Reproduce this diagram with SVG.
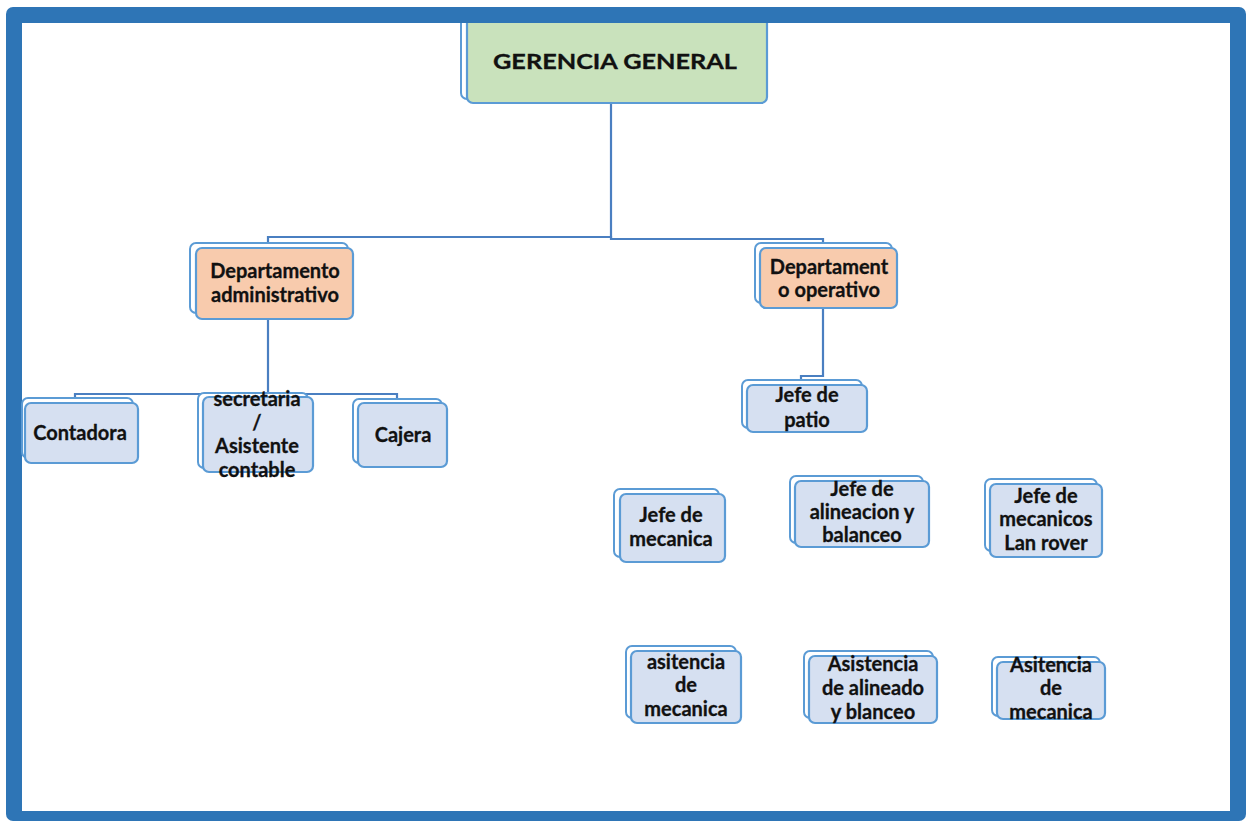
<svg xmlns="http://www.w3.org/2000/svg" width="1253" height="823" viewBox="0 0 1253 823">
  <style>
    .back { fill: #ffffff; stroke: #5B9BD5; stroke-width: 2; }
    .box { stroke: #5B9BD5; stroke-width: 2.2; }
    .blue { fill: #D6E0F1; }
    .peach { fill: #F8CBAD; }
    .green { fill: #C9E2BC; }
    .lbl { font-family: Lato, "Liberation Sans", sans-serif; font-weight: bold; font-size: 20px; fill: #111111; text-anchor: middle; stroke: #111111; stroke-width: 0.3; }
    .conn { fill: none; stroke: #4A7FC1; stroke-width: 2.2; }
  </style>

  <!-- frame -->
  <rect x="6" y="7" width="1240" height="814" rx="7" fill="#2E75B6"/>
  <rect x="22" y="23" width="1208" height="788" fill="#ffffff"/>

  <!-- connectors -->
  <g id="connectors">
    <polyline class="conn" points="611,103 611,238"/>
    <polyline class="conn" points="268,244 268,237 611,237 611,239 823,239 823,245"/>
    <polyline class="conn" points="268,319 268,394"/>
    <polyline class="conn" points="75,398 75,394 397,394 397,399"/>
    <polyline class="conn" points="823,308 823,376 801,376 801,381"/>
  </g>

  <!-- keeps the top node inside the frame -->
  <clipPath id="inner"><rect x="22" y="23" width="1208" height="788"/></clipPath>

  <g id="gerencia" clip-path="url(#inner)">
    <rect class="back" x="461" y="0" width="300" height="99" rx="6"/>
    <rect class="box green" x="467" y="4" width="300" height="99" rx="6"/>
    <text class="lbl" x="615" y="69" font-size="28" textLength="244" lengthAdjust="spacingAndGlyphs">GERENCIA GENERAL</text>
  </g>

  <g id="dep-admin">
    <rect class="back" x="190" y="243" width="158" height="70" rx="6"/>
    <rect class="box peach" x="196" y="248" width="157" height="71" rx="6"/>
    <text class="lbl" x="275" y="278">Departamento</text>
    <text class="lbl" x="275" y="302">administrativo</text>
  </g>

  <g id="dep-oper">
    <rect class="back" x="755" y="243" width="137" height="60" rx="6"/>
    <rect class="box peach" x="760" y="248" width="137" height="60" rx="6"/>
    <text class="lbl" x="829" y="274">Departament</text>
    <text class="lbl" x="829" y="297">o operativo</text>
  </g>

  <g id="contadora">
    <rect class="back" x="22" y="398" width="111" height="60" rx="6"/>
    <rect class="box blue" x="25" y="403" width="113" height="60" rx="6"/>
    <text class="lbl" x="80" y="440">Contadora</text>
  </g>

  <g id="secretaria">
    <rect class="back" x="198" y="393" width="110" height="75" rx="6"/>
    <rect class="box blue" x="203" y="397" width="110" height="75" rx="6"/>
    <text class="lbl" x="257" y="406">secretaria</text>
    <text class="lbl" x="257" y="430">/</text>
    <text class="lbl" x="257" y="453">Asistente</text>
    <text class="lbl" x="257" y="477">contable</text>
  </g>

  <g id="cajera">
    <rect class="back" x="353" y="399" width="89" height="64" rx="6"/>
    <rect class="box blue" x="358" y="403" width="89" height="64" rx="6"/>
    <text class="lbl" x="403" y="442">Cajera</text>
  </g>

  <g id="jefe-patio">
    <rect class="back" x="742" y="380" width="120" height="48" rx="6"/>
    <rect class="box blue" x="747" y="385" width="120" height="47" rx="6"/>
    <text class="lbl" x="807" y="402">Jefe de</text>
    <text class="lbl" x="807" y="427">patio</text>
  </g>

  <g id="jefe-mecanica">
    <rect class="back" x="614" y="489" width="105" height="68" rx="6"/>
    <rect class="box blue" x="620" y="494" width="105" height="68" rx="6"/>
    <text class="lbl" x="671" y="522">Jefe de</text>
    <text class="lbl" x="671" y="546">mecanica</text>
  </g>

  <g id="jefe-alineacion">
    <rect class="back" x="790" y="476" width="133" height="67" rx="6"/>
    <rect class="box blue" x="795" y="481" width="134" height="66" rx="6"/>
    <text class="lbl" x="862" y="496">Jefe de</text>
    <text class="lbl" x="862" y="519">alineacion y</text>
    <text class="lbl" x="862" y="542">balanceo</text>
  </g>

  <g id="jefe-lanrover">
    <rect class="back" x="985" y="479" width="112" height="72" rx="6"/>
    <rect class="box blue" x="990" y="484" width="112" height="73" rx="6"/>
    <text class="lbl" x="1046" y="503">Jefe de</text>
    <text class="lbl" x="1046" y="526">mecanicos</text>
    <text class="lbl" x="1046" y="550">Lan rover</text>
  </g>

  <g id="asist-mecanica-1">
    <rect class="back" x="626" y="646" width="110" height="72" rx="6"/>
    <rect class="box blue" x="631" y="651" width="110" height="72" rx="6"/>
    <text class="lbl" x="686" y="669">asitencia</text>
    <text class="lbl" x="686" y="692">de</text>
    <text class="lbl" x="686" y="716">mecanica</text>
  </g>

  <g id="asist-alineado">
    <rect class="back" x="804" y="651" width="129" height="67" rx="6"/>
    <rect class="box blue" x="809" y="656" width="128" height="67" rx="6"/>
    <text class="lbl" x="873" y="671">Asistencia</text>
    <text class="lbl" x="873" y="695">de alineado</text>
    <text class="lbl" x="873" y="719">y blanceo</text>
  </g>

  <g id="asist-mecanica-2">
    <rect class="back" x="992" y="657" width="108" height="59" rx="6"/>
    <rect class="box blue" x="997" y="662" width="108" height="57" rx="6"/>
    <text class="lbl" x="1051" y="672">Asitencia</text>
    <text class="lbl" x="1051" y="695">de</text>
    <text class="lbl" x="1051" y="719">mecanica</text>
  </g>
</svg>
